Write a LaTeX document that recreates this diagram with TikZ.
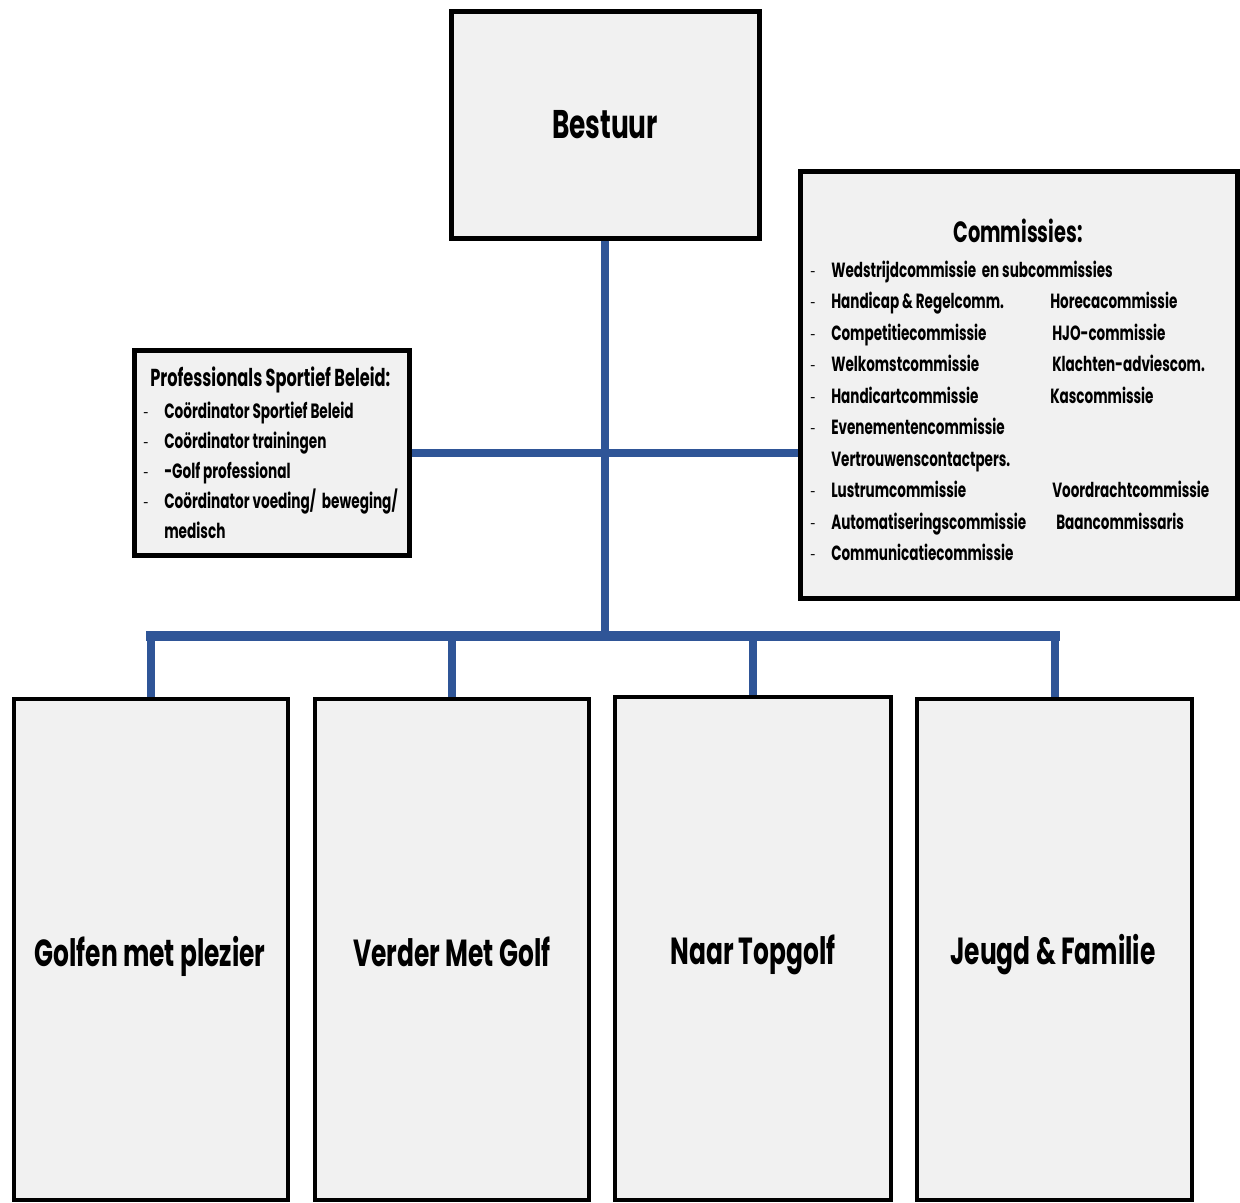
\documentclass[tikz,border=0pt]{standalone}
\usepackage{fontspec}
\setmainfont{Poppins}[FakeStretch=0.66]
\usetikzlibrary{fit}
\definecolor{connblue}{RGB}{47,85,151}
\definecolor{boxgrey}{RGB}{241,241,241}
\tikzset{
  box/.style={draw=black, fill=boxgrey, line width=3.75pt, inner sep=0pt},
  lowbox/.style={draw=black, fill=boxgrey, line width=3pt, inner sep=0pt},
  conn/.style={draw=connblue, line width=6pt},
  busline/.style={draw=connblue, line width=7.5pt, line cap=rect},
  bigtext/.style={inner sep=0pt, anchor=base, font=\bfseries\fontsize{28.3}{32}\selectfont},
  titletext/.style={inner sep=0pt, anchor=base, font=\bfseries\fontsize{22}{26}\selectfont},
  comitem/.style={inner sep=0pt, anchor=base west, font=\bfseries\fontsize{15.4}{18}\selectfont},
  comdash/.style={inner sep=0pt, anchor=base, font=\fontsize{11}{13}\selectfont},
  proftitle/.style={inner sep=0pt, anchor=base west, font=\bfseries\fontsize{18.4}{20}\selectfont},
  profitem/.style={inner sep=0pt, anchor=base west, font=\bfseries\fontsize{15.5}{17}\selectfont},
}
\begin{document}
\begin{tikzpicture}[x=0.75pt,y=-0.75pt]
\useasboundingbox (0,0) rectangle (1240,1203);

% boxes
\node[box, fit={(451,11)(759,238)}] (bestuur) {};
\node[box, fit={(800,171)(1237,598)}] (comm) {};
\node[box, fit={(134,350)(409,555)}] (prof) {};
\node[lowbox, fit={(14,699)(288,1200)}] (g1) {};
\node[lowbox, fit={(315,699)(589,1200)}] (g2) {};
\node[lowbox, fit={(615,697)(891,1200)}] (g3) {};
\node[lowbox, fit={(917,699)(1192,1200)}] (g4) {};

% connectors
\coordinate (bus) at (605,636);
\draw[conn] (bestuur.south) -- (bus);
\draw[conn] (prof.east) -- (prof.east -| comm.west);
\draw[busline] (g1.north |- bus) -- (g4.north |- bus);
\draw[conn] (g1.north |- bus) -- (g1.north);
\draw[conn] (g2.north |- bus) -- (g2.north);
\draw[conn] (g3.north |- bus) -- (g3.north);
\draw[conn] (g4.north |- bus) -- (g4.north);

% main texts
\node[bigtext, font=\bfseries\fontsize{30}{34}\selectfont] (tbestuur) at (605,138) {Bestuur};
\node[bigtext] (tg1) at (150,966) {Golfen met plezier};
\node[bigtext] (tg2) at (452,966) {Verder Met Golf};
\node[bigtext] (tg3) at (753,964) {Naar Topgolf};
\node[bigtext] (tg4) at (1053,964) {Jeugd \& Familie};

% commissies
\node[titletext] (tcomm) at (1018,242) {Commissies:};
\foreach \y/\txt [count=\i] in {277/{Wedstrijdcommissie\ \ en subcommissies},
   308.5/{Handicap \& Regelcomm.},
   340/{Competitiecommissie},
   371.5/{Welkomstcommissie},
   403/{Handicartcommissie},
   434.5/{Evenementencommissie},
   497.5/{Lustrumcommissie},
   529/{Automatiseringscommissie},
   560.5/{Communicatiecommissie}}{
  \node[comdash] (cd\i) at (813,\y) {-};
  \node[comitem] (ci\i) at (831,\y) {\txt};
}
\node[comitem] (civ) at (831,466) {Vertrouwenscontactpers.};
\node[comitem] (cr1) at (1050,308.5) {Horecacommissie};
\node[comitem] (cr2) at (1052,340) {HJO-commissie};
\node[comitem] (cr3) at (1052,371.5) {Klachten-adviescom.};
\node[comitem] (cr4) at (1050,403) {Kascommissie};
\node[comitem] (cr5) at (1052,497.5) {Voordrachtcommissie};
\node[comitem] (cr6) at (1056,529) {Baancommissaris};

% professionals
\node[proftitle] (tprof) at (150,386) {Professionals Sportief Beleid:};
\foreach \y/\txt [count=\i] in {418/{Coördinator Sportief\ Beleid},
   448/{Coördinator trainingen},
   478/{-Golf professional},
   508/{Coördinator voeding/\ \ beweging/}}{
  \node[comdash] (pd\i) at (146,\y) {-};
  \node[profitem] (pi\i) at (164,\y) {\txt};
}
\node[profitem] (pim) at (164,538) {medisch};
\end{tikzpicture}
\end{document}
